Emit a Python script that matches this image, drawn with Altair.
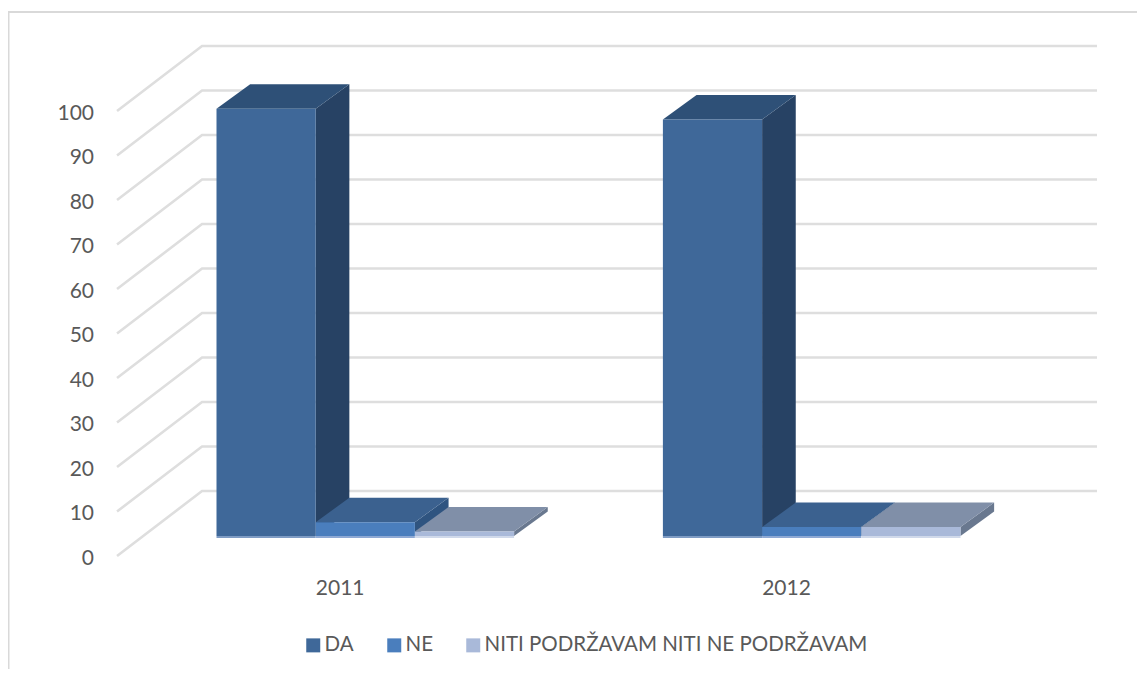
import altair as alt
import pandas as pd

# ---- data ----
years = ["2011", "2012"]
series = ["DA", "NE", "NITI PODRŽAVAM NITI NE PODRŽAVAM"]
values_2011 = [96, 3.1, 1]
values_2012 = [93.6, 2, 2]
ticks = [0, 10, 20, 30, 40, 50, 60, 70, 80, 90, 100]

# ---- colours ----
front_colors = ["#3F6899", "#4A7EBD", "#A9B9D9"]
top_colors = ["#2E5077", "#3B618F", "#808FA8"]
side_colors = ["#274264", "#2F5480", "#69788F"]
base_colors = ["#7F9CC4", "#8EA9D4", "#D0D9EA"]
grid_color = "#DEDEDE"
border_color = "#D9D9D9"
text_color = "#595959"
font = "Lato"

# ---- oblique projection of the 3D chart (units: bar widths, axis values) ----
SLOT = 4.5          # one category with its gap, in bar widths
BAR_DEPTH = 0.377   # depth of a bar as a share of the floor
BAR_SKEW = 1.05
FLOOR_FRONT = -0.3077
FLOOR_BACK = 0.6923
DU = 0.857
DV = 14.6
WALL_LEFT = -0.739
WALL_RIGHT_BACK = 8.876
PX_U = 99.2
PX_V = 4.45
W, H = 1129, 661


def project(u, v, d, skew=1.0):
    return u + d * DU * skew, v + d * DV


sides, tops, fronts = [], [], []
for yi, (year, vals) in enumerate(zip(years, [values_2011, values_2012])):
    for si, (name, val) in enumerate(zip(series, vals)):
        key = f"{year}-{si}"
        u0 = yi * SLOT + si
        u1 = u0 + 1
        fronts.append({"u0": u0, "u1": u1, "v": val, "zero": 0, "series": name,
                       "base": base_colors[si], "low": -0.45})
        for d in (0, BAR_DEPTH):
            xa, ya = project(u1, 0, d, BAR_SKEW)
            _, yb = project(u1, val, d, BAR_SKEW)
            sides.append({"key": key, "x": xa, "y": yb, "y2": ya, "fill": side_colors[si]})
            xl, yt = project(u0, val, d, BAR_SKEW)
            xr, _ = project(u1, val, d, BAR_SKEW)
            tops.append({"key": key, "x": xl, "x2": xr, "y": yt, "fill": top_colors[si]})

grid = []
for t in ticks:
    x0, y0 = project(WALL_LEFT, t, FLOOR_FRONT)
    x1, y1 = project(WALL_LEFT, t, FLOOR_BACK)
    grid += [{"t": t, "o": 0, "x": x0, "y": y0}, {"t": t, "o": 1, "x": x1, "y": y1},
             {"t": t, "o": 2, "x": WALL_RIGHT_BACK, "y": y1}]

tick_rows = []
for t in ticks:
    x0, y0 = project(WALL_LEFT, t, FLOOR_FRONT)
    tick_rows.append({"label": str(t), "x": x0, "y": y0})

cat_rows = []
for yi, year in enumerate(years):
    x0, y0 = project(yi * SLOT + 1.5, 0, FLOOR_FRONT)
    cat_rows.append({"label": year, "x": x0, "y": y0})

xs = alt.Scale(domain=[(8 - 216.5) / PX_U, (8 + W - 216.5) / PX_U], nice=False, zero=False)
ys = alt.Scale(domain=[(536 - 8 - H) / PX_V, (536 - 8) / PX_V], nice=False, zero=False)
X = alt.X("x:Q", scale=xs, axis=None)
Y = alt.Y("y:Q", scale=ys, axis=None)

border_left = alt.Chart(pd.DataFrame({"a": [0]})).mark_rule(color=border_color, strokeWidth=2).encode(
    x=alt.value(0.5), y=alt.value(4), y2=alt.value(H))
border_top = alt.Chart(pd.DataFrame({"a": [0]})).mark_rule(color=border_color, strokeWidth=2).encode(
    x=alt.value(0), x2=alt.value(W), y=alt.value(4))

grid_layer = alt.Chart(pd.DataFrame(grid)).mark_line(color=grid_color, strokeWidth=2.6).encode(
    x=X, y=Y, detail="t:N", order="o:Q")

side_layer = alt.Chart(pd.DataFrame(sides)).mark_area(interpolate="linear").encode(
    x=X, y=Y, y2="y2:Q", detail="key:N", fill=alt.Fill("fill:N", scale=None))

top_layer = alt.Chart(pd.DataFrame(tops)).mark_area(orient="horizontal", interpolate="linear").encode(
    y=Y, x=X, x2="x2:Q", detail="key:N", fill=alt.Fill("fill:N", scale=None))

front_df = pd.DataFrame(fronts)
base_layer = alt.Chart(front_df).mark_rect().encode(
    x=alt.X("u0:Q", scale=xs, axis=None), x2="u1:Q",
    y=alt.Y("low:Q", scale=ys, axis=None), y2="zero:Q",
    fill=alt.Fill("base:N", scale=None))

front_layer = alt.Chart(front_df).mark_rect().encode(
    x=alt.X("u0:Q", scale=xs, axis=None), x2="u1:Q",
    y=alt.Y("v:Q", scale=ys, axis=None), y2="zero:Q",
    color=alt.Color("series:N", scale=alt.Scale(domain=series, range=front_colors),
                    legend=alt.Legend(title=None, orient="none", legendX=295, legendY=627,
                                      direction="horizontal", symbolType="square", symbolSize=196,
                                      symbolStrokeWidth=0, labelFont=font, labelFontSize=20.5,
                                      labelColor=text_color, columnPadding=30, labelOffset=1,
                                      labelLimit=500)))

tick_layer = alt.Chart(pd.DataFrame(tick_rows)).mark_text(
    align="right", baseline="middle", dx=-23, dy=3, font=font, fontSize=21, color=text_color
).encode(x=X, y=Y, text="label:N")

cat_layer = alt.Chart(pd.DataFrame(cat_rows)).mark_text(
    align="center", baseline="middle", dx=1, dy=33, font=font, fontSize=21, color=text_color
).encode(x=X, y=Y, text="label:N")

chart = alt.layer(border_left, border_top, grid_layer, side_layer, top_layer,
                  base_layer, front_layer, tick_layer, cat_layer).properties(
    width=W, height=H, padding=0, autosize=alt.AutoSizeParams(type="none"),
    background="white"
).configure_view(stroke=None)

chart.save("out.html", embed_options={"renderer": "svg", "actions": False})
